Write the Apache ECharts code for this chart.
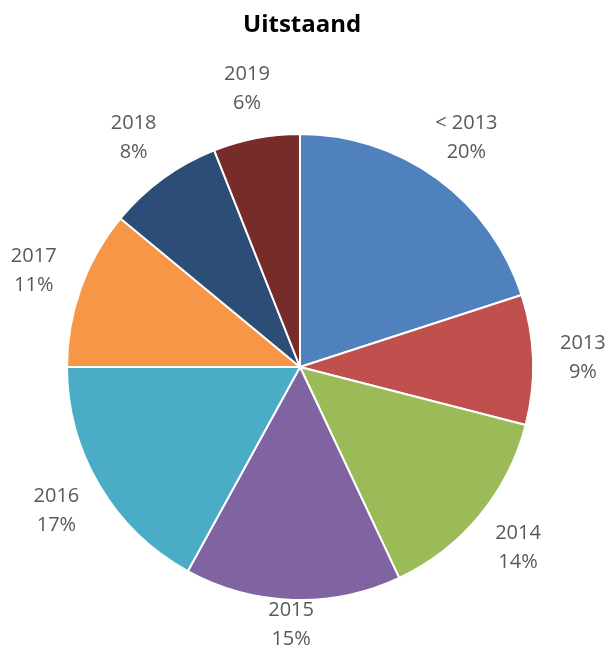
<!DOCTYPE html>
<html>
<head>
<meta charset="utf-8">
<title>Uitstaand</title>
<script src="https://cdn.jsdelivr.net/npm/echarts@6/dist/echarts.min.js"></script>
<style>
  html, body { margin: 0; padding: 0; background: #fff; }
  #chart { width: 606px; height: 651px; }
</style>
</head>
<body>
<div id="chart"></div>
<script>
const categories = ['< 2013', '2013', '2014', '2015', '2016', '2017', '2018', '2019']
const values = [20, 9, 14, 15, 17, 11, 8, 6]
const colors = ['#4F81BD', '#C0504D', '#9BBB59', '#8064A2', '#4BACC6', '#F79646', '#2C4D75', '#772C2A']

const chart = echarts.init(document.getElementById('chart'))

const seriesData = categories.map((name, i) => ({
  name: name,
  value: values[i],
  itemStyle: { color: colors[i] }
}))

const chartHeight = 651

const option = {
  animation: false,
  title: {
    text: 'Uitstaand',
    left: 238,
    top: 8,
    textStyle: {
      fontFamily: 'Open Sans',
      fontWeight: 'bold',
      fontSize: 24,
      color: '#000'
    }
  },
  series: [
    {
      type: 'pie',
      center: [300, 367],
      radius: 233,
      startAngle: 90,
      clockwise: true,
      avoidLabelOverlap: false,
      data: seriesData,
      itemStyle: {
        borderColor: '#fff',
        borderWidth: 2
      },
      label: {
        show: true,
        position: 'outside',
        formatter: '{b}\n{d}%',
        fontFamily: 'Open Sans',
        fontSize: 20,
        lineHeight: 29,
        color: '#595959'
      },
      labelLine: {
        show: false,
        length: 50,
        length2: 0
      },
      // centre the label on the end of the (hidden) label line, keep it inside the chart
      labelLayout: (params) => {
        const pts = params.labelLinePoints
        const end = pts[pts.length - 1]
        const half = params.labelRect.height / 2
        return {
          x: end[0],
          y: Math.min(end[1], chartHeight - half + 3),
          align: 'center',
          verticalAlign: 'middle'
        }
      }
    }
  ]
}

chart.setOption(option)
</script>
</body>
</html>
